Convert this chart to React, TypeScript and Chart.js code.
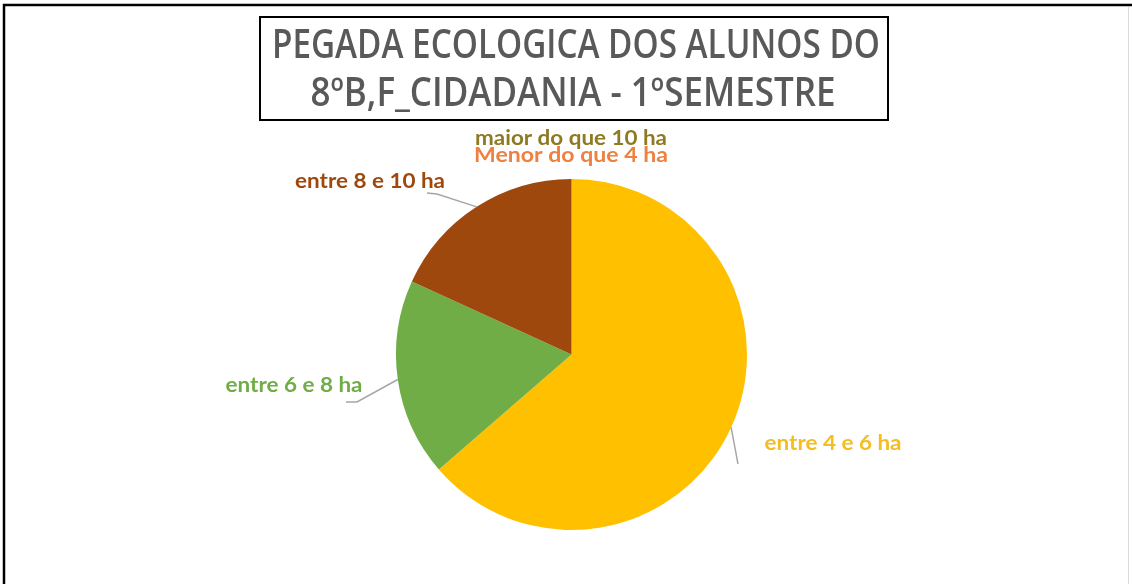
import React, { useEffect, useRef } from "react";
import { Chart, registerables } from "chart.js";

Chart.register(...registerables);

const titleLines = ["PEGADA ECOLOGICA DOS ALUNOS DO", "8ºB,F_CIDADANIA - 1ºSEMESTRE"];
const categories = ["Menor do que 4 ha", "entre 4 e 6 ha", "entre 6 e 8 ha", "entre 8 e 10 ha", "maior do que 10 ha"];
const values = [0, 7, 2, 2, 0];
const sliceColors = ["#ED7D31", "#FFC000", "#70AD47", "#9E480E", "#997300"];
const labelColors = ["#EE8140", "#F5BD1F", "#70AD47", "#9E480E", "#8E7A22"];

// label layout (style): center x, center y, target width, leader-line start points
const labelLayout = [
  { x: 571, y: 155, w: 194, lead: null as null | number[][] },
  { x: 833, y: 443, w: 137, lead: [[738, 464]] },
  { x: 294, y: 385, w: 137, lead: [[346, 402], [357, 402]] },
  { x: 370, y: 181, w: 150, lead: [[427, 193], [437, 194]] },
  { x: 571, y: 138, w: 192, lead: null as null | number[][] },
];

const W = 1132;
const H = 584;

function fitText(ctx: CanvasRenderingContext2D, text: string, cx: number, cy: number, targetW: number) {
  const m = ctx.measureText(text).width;
  const s = targetW / m;
  ctx.save();
  ctx.translate(cx, cy);
  ctx.scale(s, 1);
  ctx.textAlign = "center";
  ctx.textBaseline = "middle";
  ctx.fillText(text, 0, 0);
  ctx.restore();
}

const decorPlugin = {
  id: "decor",
  beforeDraw(chart: any) {
    const ctx = chart.ctx as CanvasRenderingContext2D;
    ctx.save();
    ctx.fillStyle = "#ffffff";
    ctx.fillRect(0, 0, W, H);
    // outer frame
    ctx.strokeStyle = "#000000";
    ctx.lineWidth = 2.5;
    ctx.beginPath();
    ctx.moveTo(4, H);
    ctx.lineTo(4, 5);
    ctx.lineTo(W, 5);
    ctx.stroke();
    ctx.strokeStyle = "#d9d9d9";
    ctx.lineWidth = 1;
    ctx.beginPath();
    ctx.moveTo(1128.5, 7);
    ctx.lineTo(1128.5, H);
    ctx.stroke();
    // title box
    ctx.strokeStyle = "#000000";
    ctx.lineWidth = 2;
    ctx.strokeRect(260, 17, 628, 103);
    ctx.fillStyle = "#595959";
    ctx.font = "600 39px 'Open Sans', Lato, sans-serif";
    fitText(ctx, titleLines[0], 576, 47, 608);
    fitText(ctx, titleLines[1], 573, 95, 525);
    ctx.restore();
  },
  afterDraw(chart: any) {
    const ctx = chart.ctx as CanvasRenderingContext2D;
    const meta = chart.getDatasetMeta(0);
    ctx.save();
    // leader lines
    ctx.strokeStyle = "#A6A6A6";
    ctx.lineWidth = 1.5;
    meta.data.forEach((arc: any, i: number) => {
      const lay = labelLayout[i];
      if (!lay || !lay.lead || values[i] === 0) return;
      const mid = (arc.startAngle + arc.endAngle) / 2;
      const ex = arc.x + Math.cos(mid) * arc.outerRadius;
      const ey = arc.y + Math.sin(mid) * arc.outerRadius;
      ctx.beginPath();
      ctx.moveTo(lay.lead[0][0], lay.lead[0][1]);
      for (let k = 1; k < lay.lead.length; k++) ctx.lineTo(lay.lead[k][0], lay.lead[k][1]);
      ctx.lineTo(ex, ey);
      ctx.stroke();
    });
    // labels
    ctx.font = "bold 21px Lato, 'Open Sans', sans-serif";
    const order = [0, 4, 1, 2, 3];
    order.forEach((i) => {
      const lay = labelLayout[i];
      ctx.fillStyle = labelColors[i];
      fitText(ctx, categories[i], lay.x, lay.y, lay.w);
    });
    ctx.restore();
  },
};

export default function App() {
  const ref = useRef<HTMLCanvasElement>(null);
  useEffect(() => {
    if (!ref.current) return;
    const chart = new Chart(ref.current, {
      type: "pie",
      data: {
        labels: categories,
        datasets: [
          {
            data: values,
            backgroundColor: sliceColors,
            borderWidth: 0,
          },
        ],
      },
      options: {
        animation: false,
        responsive: false,
        maintainAspectRatio: false,
        devicePixelRatio: 1,
        layout: { padding: { top: 179, bottom: 54, left: 396, right: 385 } },
        plugins: {
          legend: { display: false },
          title: { display: false },
          tooltip: { enabled: false },
        },
      },
      plugins: [decorPlugin],
    });
    return () => chart.destroy();
  }, []);
  return (
    <div style={{ position: "fixed", left: 0, top: 0, width: W, height: H, background: "#fff" }}>
      <canvas ref={ref} width={W} height={H} style={{ width: W, height: H, display: "block" }} />
    </div>
  );
}
